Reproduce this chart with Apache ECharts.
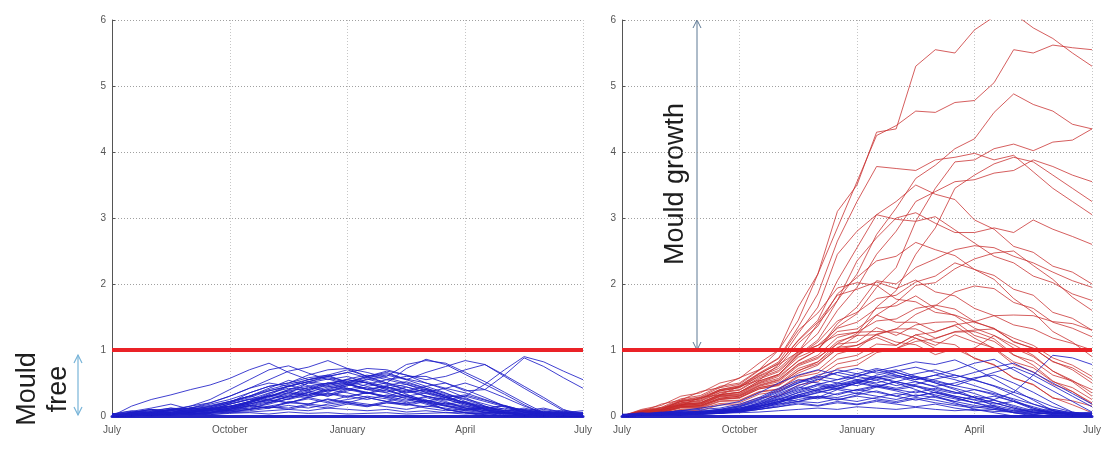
<!DOCTYPE html>
<html><head><meta charset="utf-8">
<script src="https://cdn.jsdelivr.net/npm/echarts@6/dist/echarts.min.js"></script>
<style>html,body{margin:0;padding:0;background:#fff}#c{width:1110px;height:468px}</style>
</head><body><div id="c"></div><script>
// x positions: months after 1 July (half-month steps)
const months = [0,0.5,1,1.5,2,2.5,3,3.5,4,4.5,5,5.5,6,6.5,7,7.5,8,8.5,9,9.5,10,10.5,11,11.5,12];
const tickLabels = ['July','October','January','April','July'];
const thresholdValue = 1;

// Left panel: all simulations stay mould free (blue)
const leftBlue = [
 [0,0.15,0.25,0.32,0.4, 0.47,0.57,0.7,0.8,0.66, 0.55,0.62,0.5,0.4,0.45, 0.33,0.22,0.1,0.05,0, 0.05,0,0.03,0,0],
 [0,0.05,0.1,0.08,0.15, 0.2,0.3,0.42,0.55,0.68, 0.74,0.84,0.72,0.6,0.66, 0.55,0.45,0.35,0.22,0.1, 0,0.02,0,0,0],
 [0,0.03,0.05,0.1,0.12, 0.18,0.25,0.35,0.45,0.5, 0.58,0.62,0.7,0.6,0.5, 0.72,0.86,0.78,0.63,0.48, 0.33,0.17,0.03,0,0],
 [0,0,0.04,0.06,0.1, 0.12,0.2,0.28,0.38,0.45, 0.52,0.6,0.66,0.58,0.62, 0.55,0.66,0.75,0.84,0.78, 0.62,0.45,0.28,0.1,0],
 [0,0.02,0.05,0.04,0.08, 0.1,0.15,0.22,0.3,0.38, 0.42,0.5,0.55,0.5,0.42, 0.48,0.4,0.3,0.3,0.48, 0.7,0.9,0.82,0.68,0.55],
 [0,0.03,0.06,0.08,0.12, 0.16,0.22,0.3,0.38,0.45, 0.52,0.48,0.56,0.62,0.55, 0.6,0.6,0.5,0.38,0.4, 0.62,0.88,0.75,0.58,0.42],
 [0,0,0.02,0.05,0.05, 0.1,0.18,0.25,0.3,0.4, 0.45,0.5,0.48,0.55,0.6, 0.78,0.84,0.8,0.66,0.52, 0.36,0.2,0.05,0,0.02],
 [0,0.05,0.08,0.12,0.1, 0.15,0.22,0.3,0.4,0.48, 0.55,0.6,0.66,0.72,0.7, 0.62,0.5,0.4,0.28,0.15, 0.05,0,0.02,0,0],
 [0,0.02,0.05,0.1,0.15, 0.25,0.4,0.55,0.7,0.76, 0.65,0.55,0.6,0.5,0.4, 0.3,0.2,0.1,0.05,0.02, 0,0,0,0,0],
 [0,0,0.03,0.05,0.08, 0.12,0.2,0.35,0.45,0.5, 0.62,0.7,0.72,0.66,0.58, 0.5,0.42,0.3,0.2,0.1, 0.03,0,0,0.02,0],
 [0,0.05,0.1,0.05,0.12, 0.2,0.3,0.42,0.5,0.45, 0.55,0.6,0.52,0.45,0.5, 0.4,0.3,0.22,0.12,0.05, 0,0.02,0,0.03,0],
 [0,0.03,0.02,0.06,0.05, 0.1,0.18,0.25,0.35,0.42, 0.38,0.48,0.55,0.5,0.42, 0.35,0.4,0.32,0.25,0.15, 0.08,0.02,0,0,0],
 [0,0,0.04,0.02,0.08, 0.12,0.15,0.2,0.3,0.35, 0.3,0.38,0.42,0.35,0.3, 0.38,0.45,0.5,0.4,0.28, 0.15,0.05,0.02,0,0],
 [0,0.02,0,0.03,0.05, 0.04,0.1,0.15,0.22,0.3, 0.28,0.35,0.3,0.25,0.32, 0.28,0.2,0.15,0.1,0.12, 0.05,0.02,0.04,0,0.02],
 [0,0.04,0.06,0.1,0.08, 0.12,0.1,0.18,0.25,0.2, 0.28,0.22,0.3,0.35,0.28, 0.22,0.3,0.25,0.18,0.1, 0.05,0.08,0.03,0.05,0],
 [0,0,0.02,0.05,0.03, 0.06,0.12,0.2,0.28,0.4, 0.5,0.45,0.4,0.48,0.55, 0.48,0.38,0.28,0.18,0.1, 0.05,0,0.02,0,0],
 [0,0.02,0.03,0.02,0.06, 0.08,0.14,0.22,0.3,0.25, 0.32,0.4,0.35,0.28,0.22, 0.3,0.35,0.28,0.2,0.12, 0.15,0.08,0.04,0.02,0],
 [0,0.01,0.03,0.05,0.04, 0.05,0.08,0.1,0.15,0.2, 0.18,0.25,0.2,0.15,0.2, 0.18,0.12,0.08,0.1,0.06, 0.04,0.06,0.02,0.04,0.03],
 [0,0.03,0.05,0.03,0.07, 0.1,0.08,0.14,0.2,0.26, 0.35,0.3,0.38,0.44,0.38, 0.3,0.22,0.15,0.08,0.12, 0.08,0.03,0.01,0.03,0],
 [0,0.02,0.04,0.06,0.03, 0.05,0.1,0.16,0.12,0.2, 0.26,0.2,0.25,0.3,0.26, 0.2,0.24,0.18,0.14,0.08, 0.03,0.05,0.08,0.04,0.02],
 [0,0.05,0.02,0.04,0.02, 0.04,0.06,0.08,0.12,0.16, 0.12,0.18,0.22,0.18,0.14, 0.1,0.15,0.12,0.08,0.05, 0.07,0.1,0.05,0.06,0.04],
 [0,0.03,0.05,0.08,0.06, 0.1,0.14,0.2,0.32,0.45, 0.52,0.58,0.5,0.6,0.64, 0.56,0.5,0.42,0.5,0.4, 0.28,0.15,0.05,0,0],
 [0,0.02,0.04,0.03,0.05, 0.08,0.12,0.18,0.25,0.32, 0.4,0.46,0.52,0.6,0.68, 0.62,0.55,0.6,0.7,0.78, 0.6,0.42,0.25,0.08,0],
 [0,0.01,0.02,0.01,0.03, 0.02,0.05,0.06,0.08,0.1, 0.08,0.12,0.1,0.08,0.1, 0.06,0.08,0.05,0.06,0.04, 0.05,0.03,0.04,0.02,0.02],
 [0.02,0.03,0.02,0.04,0.03, 0.02,0.04,0.05,0.03,0.06, 0.04,0.05,0.03,0.04,0.05, 0.03,0.04,0.05,0.03,0.04, 0.06,0.03,0.05,0.04,0.05],
 [0,0.02,0.01,0.03,0.05, 0.08,0.12,0.2,0.3,0.38, 0.32,0.42,0.48,0.4,0.35, 0.26,0.18,0.1,0.05,0.02, 0,0.02,0,0.01,0],
 [0,0.01,0.03,0.02,0.04, 0.06,0.1,0.16,0.24,0.2, 0.28,0.34,0.28,0.36,0.3, 0.24,0.28,0.2,0.12,0.06, 0.02,0,0.03,0,0.01],
 [0,0.02,0.04,0.02,0.03, 0.05,0.08,0.12,0.18,0.26, 0.36,0.44,0.5,0.58,0.5, 0.44,0.36,0.42,0.35,0.25, 0.15,0.06,0.02,0,0],
 [0,0.01,0.02,0.04,0.02, 0.04,0.06,0.1,0.14,0.12, 0.18,0.15,0.2,0.16,0.22, 0.18,0.14,0.2,0.15,0.1, 0.06,0.03,0.02,0.04,0.01],
 [0,0.03,0.02,0.05,0.06, 0.09,0.14,0.22,0.32,0.28, 0.36,0.3,0.4,0.34,0.44, 0.38,0.3,0.24,0.3,0.22, 0.14,0.06,0.02,0,0],
 [0.03,0.08,0.04,0.1,0.06, 0.12,0.08,0.16,0.12,0.22, 0.18,0.26,0.2,0.28,0.22, 0.18,0.24,0.16,0.12,0.08, 0.12,0.06,0.1,0.05,0.08],
 [0,0.06,0.1,0.05,0.12, 0.08,0.18,0.26,0.2,0.3, 0.38,0.32,0.42,0.36,0.28, 0.32,0.24,0.18,0.22,0.14, 0.08,0.1,0.04,0.07,0.03],
 [0.04,0.02,0.07,0.12,0.06, 0.1,0.15,0.1,0.2,0.3, 0.44,0.36,0.46,0.52,0.44, 0.36,0.4,0.3,0.2,0.14, 0.06,0.02,0.06,0.03,0.05],
 [0,0.04,0.02,0.08,0.12, 0.06,0.1,0.22,0.34,0.46, 0.4,0.5,0.42,0.34,0.4, 0.3,0.22,0.28,0.2,0.12, 0.16,0.08,0.03,0.06,0.02],
 [0.02,0.06,0.03,0.05,0.09, 0.05,0.12,0.18,0.26,0.34, 0.5,0.56,0.48,0.4,0.46, 0.52,0.42,0.34,0.26,0.18, 0.1,0.04,0.07,0.02,0.04],
 [0,0.02,0.06,0.03,0.07, 0.11,0.06,0.1,0.14,0.1, 0.16,0.12,0.18,0.14,0.2, 0.16,0.22,0.16,0.1,0.14, 0.08,0.12,0.06,0.09,0.04],
 [0.03,0.07,0.12,0.18,0.1, 0.14,0.2,0.3,0.42,0.54, 0.46,0.38,0.46,0.56,0.48, 0.4,0.34,0.26,0.16,0.08, 0.04,0.08,0.03,0.02,0.04],
 [0.01,0.04,0.08,0.04,0.1, 0.14,0.22,0.3,0.24,0.36, 0.3,0.4,0.48,0.42,0.36, 0.44,0.36,0.28,0.32,0.24, 0.16,0.08,0.12,0.05,0.02]
];

// Right panel: simulations exceeding the threshold (red)
const rightRed = [
 [0,0.1,0.16,0.3,0.35, 0.5,0.57,0.8,1.0,1.65, 2.15,3.1,3.5,4.3,4.35, 5.3,5.55,5.5,5.85,6.05, 6.1,5.88,5.72,5.5,5.3],
 [0,0.06,0.18,0.24,0.37, 0.43,0.58,0.7,1.0,1.45, 2.15,2.85,3.55,4.25,4.4, 4.62,4.6,4.75,4.78,5.05, 5.55,5.5,5.62,5.58,5.55],
 [0,0.07,0.1,0.22,0.26, 0.38,0.43,0.6,0.72,0.98, 1.25,1.75,2.15,2.75,3.15, 3.6,3.8,4.05,4.2,4.6, 4.88,4.72,4.62,4.42,4.35],
 [0,0.05,0.08,0.18,0.2, 0.32,0.36,0.5,0.6,0.83, 1.0,1.35,1.55,1.95,2.25, 2.95,3.45,3.85,3.88,4.05, 4.12,4.02,4.15,4.18,4.35],
 [0,0.09,0.13,0.26,0.31, 0.45,0.5,0.7,0.88,1.35, 1.85,2.65,3.25,3.78,3.75, 3.72,3.88,3.92,3.98,3.88, 3.95,3.7,3.45,3.25,3.05],
 [0,0.04,0.06,0.14,0.16, 0.27,0.3,0.43,0.48,0.68, 0.82,1.1,1.25,1.65,1.9, 2.45,2.85,3.45,3.65,3.82, 3.92,3.85,3.65,3.45,3.25],
 [0,0.06,0.09,0.17,0.2, 0.32,0.36,0.53,0.63,0.93, 1.15,1.6,1.95,2.45,2.8, 3.25,3.4,3.55,3.58,3.68, 3.72,3.88,3.78,3.65,3.55],
 [0,0.08,0.11,0.23,0.28, 0.4,0.46,0.65,0.82,1.25, 1.65,2.45,2.8,3.05,2.98, 2.95,3.02,2.82,2.62,2.42, 2.32,2.12,2.02,1.85,1.75],
 [0,0.04,0.13,0.16,0.28, 0.32,0.45,0.54,0.78,0.97, 1.4,1.75,2.35,2.7,3.0, 3.08,2.92,2.78,2.78,2.85, 2.78,2.97,2.83,2.72,2.6],
 [0,0.05,0.08,0.16,0.18, 0.3,0.33,0.49,0.57,0.84, 1.0,1.4,1.65,2.05,2.0, 2.25,2.38,2.52,2.58,2.55, 2.42,2.32,2.18,2.05,1.95],
 [0,0.04,0.06,0.14,0.15, 0.25,0.28,0.41,0.46,0.65, 0.77,1.03,1.22,1.53,1.72, 1.98,2.02,2.23,2.38,2.47, 2.5,2.28,2.07,1.8,1.6],
 [0,0.07,0.1,0.22,0.26, 0.39,0.44,0.63,0.8,1.14, 1.42,1.83,1.92,2.03,1.93, 2.06,1.88,1.82,1.63,1.52, 1.38,1.32,1.18,1.1,1.0],
 [0,0.05,0.08,0.18,0.2, 0.33,0.36,0.53,0.63,0.92, 1.12,1.44,1.57,1.78,1.83, 2.03,2.12,2.32,2.22,2.07, 1.78,1.57,1.28,1.12,0.9],
 [0,0.06,0.08,0.17,0.19, 0.31,0.34,0.51,0.62,0.89, 1.02,1.28,1.32,1.53,1.42, 1.42,1.28,1.37,1.18,1.02, 0.78,0.67,0.48,0.37,0.2],
 [0,0.05,0.06,0.15,0.16, 0.27,0.3,0.45,0.52,0.76, 0.87,1.13,1.22,1.23,1.32, 1.32,1.18,1.27,1.28,1.17, 0.93,0.77,0.53,0.37,0.18],
 [0,0.06,0.09,0.19,0.22, 0.35,0.39,0.56,0.67,0.94, 1.07,1.33,1.42,1.63,1.67, 1.82,1.63,1.52,1.33,1.22, 1.03,0.9,0.68,0.54,0.35],
 [0,0.04,0.05,0.13,0.14, 0.25,0.27,0.41,0.47,0.69, 0.79,1.01,1.07,1.23,1.12, 1.08,0.93,1.02,0.88,0.77, 0.58,0.47,0.28,0.17,0.05],
 [0,0.07,0.1,0.2,0.23, 0.36,0.4,0.58,0.69,0.96, 1.07,1.23,1.27,1.28,1.27, 1.18,1.02,0.98,1.03,1.22, 1.08,0.92,0.68,0.52,0.3],
 [0,0.03,0.04,0.1,0.11, 0.19,0.2,0.33,0.37,0.54, 0.59,0.79,0.85,0.99,1.02, 1.13,1.17,1.28,1.3,1.32, 1.18,1.07,0.88,0.77,0.6],
 [0,0.04,0.05,0.12,0.12, 0.22,0.23,0.36,0.4,0.59, 0.65,0.86,0.92,1.09,1.07, 1.23,1.27,1.38,1.43,1.52, 1.53,1.52,1.43,1.4,1.3],
 [0,0.05,0.07,0.16,0.18, 0.3,0.32,0.47,0.55,0.79, 0.92,1.19,1.27,1.44,1.47, 1.63,1.68,1.62,1.43,1.32, 1.13,1.02,0.83,0.7,0.5],
 [0,0.08,0.12,0.24,0.29, 0.43,0.48,0.69,0.87,1.3, 1.56,1.94,2.02,1.98,1.77, 1.73,1.57,1.53,1.42,1.33, 1.12,1.03,0.82,0.73,0.55],
 [0,0.06,0.09,0.2,0.24, 0.38,0.43,0.61,0.75,1.1, 1.36,1.85,2.1,2.35,2.42, 2.63,2.52,2.43,2.22,2.13, 1.92,1.83,1.57,1.48,1.3],
 [0,0.04,0.06,0.14,0.15, 0.26,0.28,0.43,0.49,0.72, 0.82,1.04,1.07,1.19,1.07, 1.23,1.12,1.08,0.87,0.78, 0.57,0.48,0.27,0.23,0.15],
 [0,0.05,0.07,0.16,0.17, 0.29,0.31,0.46,0.54,0.78, 0.89,1.09,1.12,1.34,1.22, 1.38,1.42,1.43,1.22,1.13, 0.92,0.83,0.62,0.53,0.4],
 [0,0.03,0.03,0.09,0.08, 0.17,0.17,0.28,0.3,0.47, 0.52,0.72,0.77,0.96,1.02, 1.18,1.07,1.23,1.12,1.03, 0.82,0.73,0.52,0.43,0.25],
 [0,0.07,0.11,0.22,0.26, 0.4,0.45,0.64,0.79,1.15, 1.45,2.05,2.55,3.05,3.25, 3.5,3.36,3.28,2.97,2.83, 2.57,2.48,2.27,2.18,2.0],
 [0,0.04,0.05,0.13,0.13, 0.23,0.24,0.37,0.41,0.61, 0.69,0.94,1.02,1.24,1.32, 1.54,1.67,1.88,1.97,1.93, 1.72,1.63,1.42,1.33,1.2]
];

// Right panel: simulations that stay mould free (blue)
const rightBlue = [
 [0,0.02,0.05,0.08,0.12, 0.16,0.22,0.35,0.5,0.62, 0.7,0.62,0.55,0.6,0.5, 0.4,0.3,0.2,0.1,0.05, 0,0.02,0,0,0],
 [0,0.01,0.03,0.05,0.07, 0.1,0.15,0.25,0.38,0.5, 0.58,0.66,0.72,0.65,0.7, 0.6,0.5,0.4,0.28,0.15, 0.05,0,0.02,0,0],
 [0,0.02,0.04,0.06,0.05, 0.08,0.12,0.2,0.3,0.4, 0.48,0.55,0.6,0.68,0.75, 0.82,0.78,0.85,0.72,0.56, 0.4,0.24,0.08,0,0],
 [0,0.01,0.02,0.04,0.06, 0.08,0.1,0.16,0.25,0.32, 0.4,0.45,0.52,0.58,0.62, 0.55,0.62,0.7,0.8,0.86, 0.7,0.54,0.38,0.22,0.06],
 [0,0.03,0.05,0.08,0.1, 0.12,0.18,0.28,0.42,0.55, 0.5,0.45,0.52,0.45,0.4, 0.45,0.35,0.28,0.2,0.12, 0.05,0.02,0.05,0.02,0],
 [0,0.02,0.03,0.05,0.04, 0.06,0.1,0.15,0.22,0.3, 0.38,0.32,0.4,0.46,0.4, 0.35,0.42,0.36,0.28,0.2, 0.12,0.05,0.08,0.03,0.02],
 [0,0.01,0.02,0.03,0.05, 0.07,0.09,0.12,0.18,0.25, 0.3,0.28,0.35,0.3,0.25, 0.32,0.28,0.22,0.3,0.25, 0.36,0.62,0.92,0.88,0.78],
 [0,0.02,0.04,0.03,0.05, 0.07,0.12,0.18,0.26,0.35, 0.42,0.5,0.46,0.55,0.6, 0.52,0.45,0.5,0.58,0.62, 0.5,0.36,0.2,0.06,0],
 [0,0.01,0.03,0.02,0.04, 0.05,0.08,0.12,0.18,0.22, 0.28,0.25,0.3,0.26,0.22, 0.28,0.24,0.18,0.14,0.1, 0.06,0.08,0.04,0.05,0.02],
 [0,0.02,0.01,0.03,0.02, 0.04,0.06,0.1,0.14,0.18, 0.15,0.2,0.17,0.22,0.18, 0.14,0.18,0.12,0.08,0.1, 0.05,0.03,0.06,0.02,0.03],
 [0,0.01,0.02,0.04,0.03, 0.05,0.08,0.14,0.22,0.32, 0.4,0.48,0.55,0.5,0.58, 0.64,0.7,0.62,0.55,0.45, 0.32,0.18,0.08,0.02,0],
 [0,0.02,0.03,0.02,0.04, 0.06,0.09,0.15,0.2,0.28, 0.35,0.42,0.38,0.45,0.52, 0.45,0.38,0.3,0.25,0.3, 0.22,0.12,0.05,0.02,0.04],
 [0.02,0.03,0.02,0.04,0.03, 0.04,0.05,0.06,0.08,0.1, 0.12,0.1,0.14,0.12,0.1, 0.13,0.1,0.08,0.1,0.07, 0.06,0.05,0.04,0.05,0.04],
 [0,0.01,0.02,0.03,0.04, 0.06,0.1,0.18,0.3,0.42, 0.55,0.66,0.6,0.7,0.62, 0.55,0.62,0.55,0.46,0.36, 0.24,0.12,0.04,0,0],
 [0,0.01,0.02,0.01,0.03, 0.04,0.07,0.12,0.2,0.3, 0.26,0.34,0.4,0.36,0.3, 0.38,0.32,0.26,0.2,0.14, 0.08,0.03,0.05,0.02,0.01],
 [0,0.02,0.01,0.02,0.04, 0.05,0.08,0.14,0.24,0.36, 0.46,0.4,0.5,0.44,0.52, 0.46,0.4,0.34,0.4,0.32, 0.22,0.1,0.04,0.02,0],
 [0,0.01,0.03,0.02,0.03, 0.05,0.06,0.1,0.16,0.22, 0.2,0.26,0.22,0.28,0.34, 0.3,0.36,0.3,0.24,0.18, 0.22,0.14,0.06,0.03,0.02],
 [0,0.02,0.03,0.05,0.07, 0.1,0.16,0.26,0.4,0.52, 0.6,0.55,0.64,0.72,0.66, 0.58,0.5,0.42,0.34,0.24, 0.14,0.06,0.02,0,0],
 [0.02,0.05,0.03,0.07,0.04, 0.08,0.06,0.12,0.2,0.32, 0.28,0.4,0.34,0.44,0.38, 0.3,0.36,0.28,0.2,0.24, 0.16,0.08,0.1,0.05,0.03],
 [0,0.03,0.06,0.04,0.08, 0.06,0.1,0.2,0.34,0.46, 0.56,0.5,0.6,0.54,0.46, 0.52,0.44,0.36,0.28,0.2, 0.12,0.06,0.02,0.04,0.02],
 [0.03,0.01,0.04,0.06,0.03, 0.07,0.12,0.16,0.26,0.22, 0.3,0.24,0.32,0.38,0.3, 0.24,0.3,0.22,0.16,0.12, 0.08,0.1,0.05,0.03,0.05],
 [0,0.02,0.04,0.02,0.05, 0.08,0.14,0.24,0.36,0.5, 0.62,0.7,0.64,0.58,0.66, 0.58,0.52,0.46,0.56,0.66, 0.74,0.62,0.46,0.3,0.14],
 [0.02,0.04,0.02,0.05,0.07, 0.04,0.08,0.1,0.14,0.2, 0.16,0.22,0.18,0.24,0.2, 0.26,0.2,0.16,0.12,0.16, 0.1,0.06,0.08,0.04,0.06],
 [0,0.03,0.05,0.08,0.05, 0.09,0.14,0.22,0.32,0.44, 0.38,0.46,0.54,0.48,0.42, 0.48,0.56,0.62,0.54,0.46, 0.36,0.26,0.14,0.06,0.02],
 [0.01,0.03,0.02,0.04,0.06, 0.1,0.08,0.14,0.22,0.28, 0.36,0.42,0.5,0.58,0.52, 0.6,0.54,0.46,0.4,0.34, 0.26,0.18,0.1,0.04,0.02],
 [0,0.02,0.04,0.06,0.04, 0.06,0.1,0.18,0.28,0.38, 0.48,0.42,0.5,0.62,0.68, 0.74,0.66,0.58,0.66,0.74, 0.8,0.66,0.5,0.34,0.18]
];

const BLUE = 'rgb(30,30,200)';
const RED = 'rgb(200,44,44)';
const THRESH = '#ea2227';
const FONT = 'Liberation Sans, Arial, sans-serif';

function lineSeries(values, panel, color, opacity, width) {
  return {
    type: 'line', xAxisIndex: panel, yAxisIndex: panel,
    data: months.map((m, i) => [m, values[i]]),
    symbol: 'none', showSymbol: false, silent: true, animation: false, clip: true,
    lineStyle: { color: color, width: width, opacity: opacity }, z: 2
  };
}
function thresholdSeries(panel) {
  return {
    type: 'line', xAxisIndex: panel, yAxisIndex: panel,
    data: [[months[0], thresholdValue], [months[months.length - 1], thresholdValue]],
    symbol: 'none', silent: true, animation: false,
    lineStyle: { color: THRESH, width: 4 }, z: 5
  };
}

const grids = [
  { left: 112, top: 20, width: 471, height: 396 },
  { left: 622, top: 20, width: 470, height: 396 }
];
const xAxes = grids.map((g, i) => ({
  type: 'value', gridIndex: i, min: 0, max: 12, interval: 3,
  axisLine: { show: true, lineStyle: { color: '#2626c6', width: 3 } },
  axisTick: { show: false },
  axisLabel: { formatter: v => tickLabels[Math.round(v / 3)], color: '#555', fontSize: 10, fontFamily: FONT, margin: 9 },
  splitLine: { show: true, lineStyle: { color: '#c6c6c6', type: [1, 2], width: 1 } }
}));
const yAxes = grids.map((g, i) => ({
  type: 'value', gridIndex: i, min: 0, max: 6, interval: 1,
  axisLine: { show: true, lineStyle: { color: '#555', width: 1 } },
  axisTick: { show: true, inside: true, length: 3, lineStyle: { color: '#555' } },
  axisLabel: { color: '#555', fontSize: 10, fontFamily: FONT, margin: 6 },
  splitLine: { show: true, lineStyle: { color: '#a0a0a0', type: [1, 2], width: 1 } }
}));

const series = [];
leftBlue.forEach(v => series.push(lineSeries(v, 0, BLUE, 0.85, 1)));
rightRed.forEach(v => series.push(lineSeries(v, 1, RED, 0.85, 0.9)));
rightBlue.forEach(v => series.push(lineSeries(v, 1, BLUE, 0.85, 1)));
series.push(thresholdSeries(0));
series.push(thresholdSeries(1));

function arrow(x, y1, y2, color, w) {
  return [
    { type: 'line', shape: { x1: x, y1: y1, x2: x, y2: y2 }, style: { stroke: color, lineWidth: w }, silent: true },
    { type: 'polyline', shape: { points: [[x - 4, y1 + 8], [x, y1], [x + 4, y1 + 8]] }, style: { stroke: color, lineWidth: w, fill: null }, silent: true },
    { type: 'polyline', shape: { points: [[x - 4, y2 - 8], [x, y2], [x + 4, y2 - 8]] }, style: { stroke: color, lineWidth: w, fill: null }, silent: true }
  ];
}
function vtext(txt, x, y) {
  return { type: 'text', x: x, y: y, rotation: Math.PI / 2, silent: true,
    style: { text: txt, fontSize: 27, fontFamily: FONT, fill: '#1e1e1e', align: 'center', verticalAlign: 'middle', textAlign: 'center', textVerticalAlign: 'middle' } };
}

const graphic = [
  vtext('Mould', 28, 389),
  vtext('free', 59, 389),
  vtext('Mould growth', 676, 184),
  ...arrow(78, 355, 415, '#78b4d8', 1.2),
  ...arrow(697, 20, 350, '#5d7894', 1)
];

const chart = echarts.init(document.getElementById('c'), null, { renderer: 'canvas' });
chart.setOption({
  animation: false, backgroundColor: '#fff',
  grid: grids, xAxis: xAxes, yAxis: yAxes, series: series, graphic: graphic
});
</script></body></html>
